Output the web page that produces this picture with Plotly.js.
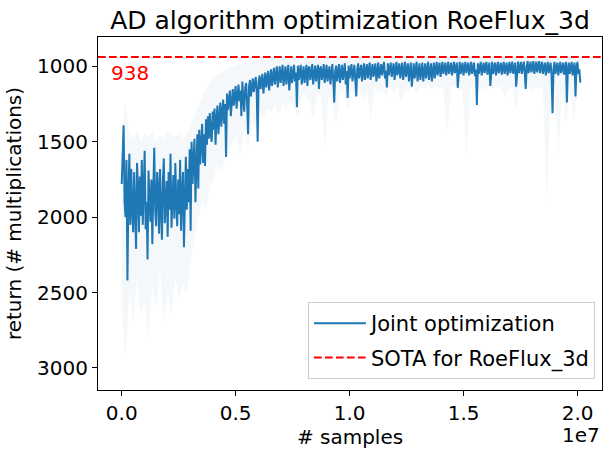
<!DOCTYPE html>
<html>
<head>
<meta charset="utf-8">
<script src="https://cdn.plot.ly/plotly-3.0.1.min.js"></script>
<style>
  html, body { margin: 0; padding: 0; background: #fff; }
  #myDiv { width: 615px; height: 455px; }
</style>
</head>
<body>
<div id="myDiv"></div>
<script>

// samples between two logged points
var xStep = 42000;

// mean return (# multiplications) per logged point
var returns = [
	1780, 1560, 1390, 1900, 2000, 1620, 2420, 1850, 1580, 2050,
	1680, 1950, 2100, 1700, 1890, 2210, 1640, 1800, 2100, 1730,
	1990, 1620, 2050, 1760, 1560, 2080, 1900, 2280, 1690, 1870,
	2030, 1750, 2180, 1820, 1540, 1960, 2060, 1700, 1800, 2110,
	1680, 1930, 2150, 1760, 1610, 2040, 1880, 1760, 2130, 1700,
	1950, 1580, 2070, 1820, 1720, 2010, 1640, 1900, 2060, 1750,
	1980, 1620, 2090, 1840, 1700, 2200, 1780, 1600, 1950, 1680,
	1900, 1550, 2090, 1500, 1780, 1620, 1480, 1900, 1560, 1450,
	1810, 1420, 1650, 1500, 1380, 1640, 1450, 1660, 1350, 1520,
	1330, 1480, 1310, 1450, 1500, 1300, 1420, 1280, 1520, 1350,
	1260, 1450, 1300, 1240, 1400, 1280, 1220, 1380, 1250, 1600,
	1180, 1290, 1220, 1160, 1330, 1200, 1150, 1260, 1190, 1130,
	1280, 1170, 1120, 1230, 1160, 1330, 1100, 1210, 1300, 1140,
	1110, 1250, 1450, 1130, 1090, 1200, 1150, 1080, 1170, 1120,
	1070, 1160, 1500, 1100, 1060, 1150, 1090, 1050, 1180, 1080,
	1040, 1140, 1070, 1030, 1160, 1090, 1020, 1130, 1060, 1010,
	1120, 1050, 1000, 1140, 1060, 1000, 1110, 1040, 990, 1130,
	1050, 1000, 1120, 1030, 990, 1160, 1040, 1000, 1110, 1020,
	990, 1100, 1040, 1270, 995, 1090, 1020, 990, 1120, 1030,
	1000, 1110, 1040, 990, 1130, 1020, 1000, 1090, 1050, 985,
	1120, 1030, 995, 1100, 1040, 990, 1150, 1020, 1000, 1090,
	1050, 985, 1110, 1030, 990, 1100, 1040, 1000, 1120, 1020,
	985, 1090, 1240, 1030, 995, 1100, 1040, 985, 1110, 1020,
	990, 1090, 1050, 980, 1120, 1030, 1210, 995, 1080, 1040,
	985, 1100, 1030, 990, 1090, 1200, 1020, 980, 1080, 1040,
	990, 1100, 1020, 980, 1090, 1040, 985, 1080, 1030, 975,
	1090, 1040, 985, 1070, 1020, 980, 1100, 1030, 975, 1080,
	1040, 985, 1060, 1020, 970, 1080, 1030, 1140, 980, 1060,
	1020, 975, 1070, 1030, 980, 1090, 1040, 970, 1060, 1020,
	980, 1080, 1030, 975, 1090, 1040, 970, 1070, 1020, 980,
	1100, 1040, 975, 1135, 1030, 980, 1080, 1040, 970, 1100,
	1030, 980, 1090, 1040, 975, 1100, 1050, 980, 1080, 1030,
	970, 1090, 1040, 980, 1100, 1030, 975, 1080, 1040, 970,
	1060, 1020, 975, 1070, 1030, 970, 1050, 1010, 975, 1060,
	1020, 970, 1050, 1010, 975, 1060, 1020, 970, 1045, 1010,
	975, 1142, 1020, 970, 1050, 1010, 975, 1060, 1020, 970,
	1045, 1005, 975, 1060, 1020, 970, 1050, 1010, 975, 1065,
	1020, 1255, 980, 1050, 1010, 970, 1060, 1020, 975, 1045,
	1010, 970, 1055, 1020, 975, 1130, 1010, 970, 1050, 1015,
	975, 1060, 1020, 970, 1045, 1010, 975, 1055, 1015, 970,
	1050, 1010, 975, 1060, 1020, 970, 1045, 1005, 968, 1050,
	1010, 975, 1135, 1015, 968, 1045, 1005, 970, 1050, 1010,
	968, 1040, 1150, 1000, 965, 1045, 1010, 968, 1040, 1000,
	965, 1050, 1010, 968, 1040, 1000, 965, 1045, 1010, 970,
	1050, 1010, 975, 1060, 1020, 970, 1045, 1010, 975, 1060,
	1310, 1020, 970, 1050, 1010, 975, 1060, 1020, 970, 1045,
	1010, 975, 1055, 1020, 970, 1240, 1015, 975, 1050, 1010,
	970, 1060, 1020, 975, 1200, 1010, 970, 1050, 1020, 1108
];

// spread around the mean, logged every fourth point
var bandBest = [
	1400, 1250, 1450, 1480, 1420, 1500, 1440, 1470, 1430, 1500,
	1460, 1480, 1420, 1450, 1470, 1440, 1480, 1450, 1400, 1330,
	1260, 1200, 1150, 1100, 1080, 1050, 1040, 1020, 1010, 1000,
	990, 980, 975, 970, 965, 960, 955, 955, 950, 950,
	945, 945, 945, 945, 940, 940, 940, 945, 940, 945,
	940, 945, 940, 940, 945, 940, 940, 935, 940, 945,
	940, 935, 940, 940, 945, 940, 935, 940, 940, 935,
	940, 945, 940, 935, 940, 940, 935, 940, 945, 940,
	935, 940, 940, 935, 940, 945, 940, 935, 940, 940,
	935, 940, 945, 940, 935, 940, 940, 935, 940, 945,
	940, 935, 940, 940, 935, 940, 945, 940, 935, 940,
	940, 935, 940, 945, 940, 935, 940, 940, 935, 940
];
var bandWorst = [
	2600, 2950, 2500, 2700, 2400, 2650, 2550, 2800, 2450, 2600,
	2350, 2700, 2500, 2650, 2400, 2550, 2450, 2500, 2300, 2150,
	2000, 1900, 1950, 1800, 1750, 1650, 1700, 1600, 1550, 1500,
	1450, 1600, 1400, 1550, 1350, 1400, 1300, 1350, 1280, 1300,
	1250, 1320, 1240, 1280, 1220, 1260, 1350, 1200, 1180, 1240,
	1350, 1200, 1170, 1550, 1190, 1250, 1400, 1180, 1160, 1300,
	1170, 1200, 1150, 1230, 1160, 1350, 1140, 1180, 1150, 1200,
	1140, 1170, 1130, 1250, 1150, 1160, 1130, 1180, 1140, 1150,
	1130, 1160, 1130, 1140, 1150, 1450, 1140, 1130, 1160, 1150,
	1600, 1140, 1130, 1150, 1140, 1160, 1130, 1150, 1140, 1130,
	1200, 1150, 1140, 1300, 1130, 1150, 1140, 1160, 1130, 1150,
	1140, 1900, 1150, 1130, 1600, 1150, 1400, 1140, 1350, 1200
];

var sota = 938;
var yTicks = [1000, 1500, 2000, 2500, 3000];
var xTicks = [0, 5e6, 1e7, 1.5e7, 2e7];
var xTickText = ['0.0', '0.5', '1.0', '1.5', '2.0'];

var blue = '#1f77b4';
var font = 'DejaVu Sans, sans-serif';

var xLine = [];
for (var i = 0; i < returns.length; i++) {
	xLine.push(i * xStep);
}
var xBand = [];
for (var j = 0; j < bandBest.length; j++) {
	xBand.push(j * 4 * xStep);
}

var bandLo = {
	x: xBand, y: bandBest,
	mode: 'lines', type: 'scatter',
	line: {width: 0, color: blue},
	showlegend: false, hoverinfo: 'skip'
};
var bandHi = {
	x: xBand, y: bandWorst,
	mode: 'lines', type: 'scatter',
	line: {width: 0, color: blue},
	fill: 'tonexty', fillcolor: 'rgba(31,119,180,0.05)',
	showlegend: false, hoverinfo: 'skip'
};
var joint = {
	x: xLine, y: returns,
	mode: 'lines', type: 'scatter',
	name: 'Joint optimization',
	legendrank: 1, legendgroup: 'joint',
	line: {width: 2, color: blue}
};

var axisCommon = {
	showgrid: false, zeroline: false,
	showline: true, mirror: true, linecolor: '#000', linewidth: 1,
	ticks: 'outside', ticklen: 5, tickwidth: 1, tickcolor: '#000',
	tickfont: {family: font, size: 20, color: '#000'}
};

var layout = {
	width: 615, height: 455,
	margin: {l: 98, r: 13, t: 37, b: 65},
	paper_bgcolor: '#fff', plot_bgcolor: '#fff',
	font: {family: font, color: '#000'},
	title: {
		text: 'AD algorithm optimization RoeFlux_3d',
		font: {family: font, size: 25, color: '#000'},
		x: 0.5, xref: 'paper', y: 0.956, yref: 'container', yanchor: 'middle'
	},
	xaxis: Object.assign({}, axisCommon, {
		range: [-1.04e6, 2.107e7],
		tickvals: xTicks, ticktext: xTickText,
		title: {text: '# samples', font: {family: font, size: 20, color: '#000'}, standoff: 2}
	}),
	yaxis: Object.assign({}, axisCommon, {
		range: [3146, 805],
		tickvals: yTicks,
		title: {text: 'return (# multiplications)', font: {family: font, size: 20, color: '#000'}, standoff: 10}
	}),
	shapes: [{
		type: 'line', xref: 'paper', x0: 0, x1: 1,
		yref: 'y', y0: sota, y1: sota,
		line: {color: 'red', width: 2, dash: '7.7px,3.3px'},
		showlegend: true, name: 'SOTA for RoeFlux_3d',
		legendrank: 2, legendgroup: 'sota'
	}],
	annotations: [{
		text: String(sota), showarrow: false,
		xref: 'x', x: -5.6e5, xanchor: 'left',
		yref: 'y', y: sota, yanchor: 'top', yshift: -2,
		font: {family: font, size: 20, color: 'red'}
	}, {
		text: '1e7', showarrow: false,
		xref: 'paper', x: 1, xanchor: 'right',
		yref: 'paper', y: -0.1275, yanchor: 'middle',
		font: {family: font, size: 20, color: '#000'}
	}],
	legend: {
		x: 0.986, xanchor: 'right', y: 0.031, yanchor: 'bottom',
		traceorder: 'grouped', tracegroupgap: 4, itemwidth: 52,
		bgcolor: 'rgba(255,255,255,0.8)', bordercolor: '#ccc', borderwidth: 1,
		font: {family: font, size: 21, color: '#000'}
	}
};

Plotly.newPlot('myDiv', [bandLo, bandHi, joint], layout, {displayModeBar: false, staticPlot: true});

</script>
</body>
</html>
